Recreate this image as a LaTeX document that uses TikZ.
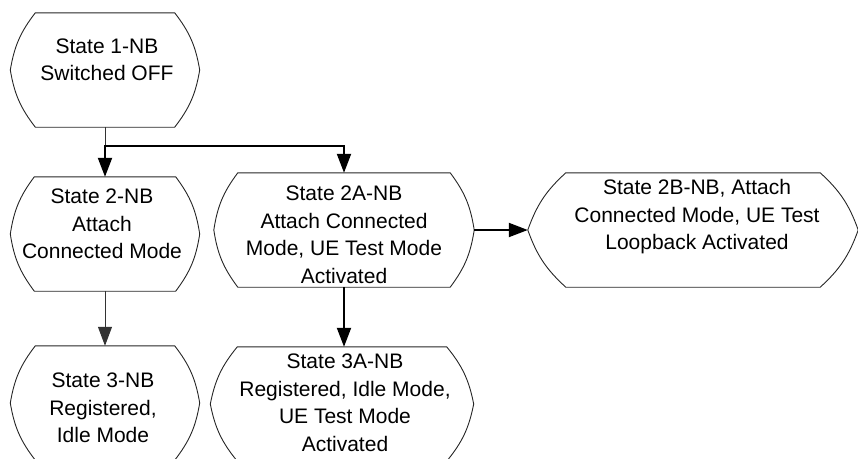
\documentclass[tikz,border=0pt]{standalone}
\usepackage{fontspec}
\setmainfont{Liberation Sans}
\usetikzlibrary{arrows.meta,calc}

\tikzset{
  statebox/.style={minimum height=114pt, inner sep=0pt},
  statetext/.style={align=center, inner sep=0pt, font=\fontsize{21}{27.5}\selectfont},
  outline/.style={draw=black!85, line width=0.9pt},
  thinline/.style={draw=black!80, line width=1pt},
  thickline/.style={draw=black, line width=2pt},
  tip/.style={-{Triangle[length=19pt,width=14pt]}}
}

%% hexagon with bulging sides round a named node, #2 = corner inset
\newcommand{\drawstate}[2]{%
  \draw[outline] ($(#1.north west)+(#2,0)$) -- ($(#1.north east)+(-#2,0)$)
    to[bend left=14] (#1.east) to[bend left=14] ($(#1.south east)+(-#2,0)$)
    -- ($(#1.south west)+(#2,0)$) to[bend left=14] (#1.west)
    to[bend left=14] ($(#1.north west)+(#2,0)$) -- cycle;}

\begin{document}
\begin{tikzpicture}[x=1pt,y=-1pt]
\useasboundingbox (0,0) rectangle (858,458);

%% states
\node[statebox, minimum width=189pt] (s1)  at (105,70)    {};   %% 1-NB
\node[statebox, minimum width=189pt] (s2)  at (105,234)   {};   %% 2-NB
\node[statebox, minimum width=260pt] (s2a) at (344,230)   {};   %% 2A-NB
\node[statebox, minimum width=330pt] (s2b) at (693,230)   {};   %% 2B-NB
\node[statebox, minimum width=189pt] (s3)  at (105,403)   {};   %% 3-NB
\node[statebox, minimum width=263pt] (s3a) at (342,404)   {};   %% 3A-NB

\drawstate{s1}{25}
\drawstate{s2}{24}
\drawstate{s2a}{24}
\drawstate{s2b}{38}
\drawstate{s3}{25}
\drawstate{s3a}{27}

%% state texts
\node[statetext] (t1)  at (107,60)  {State 1-NB\\Switched OFF};
\node[statetext] (t2)  at (102,224) {State 2-NB\\Attach\\Connected Mode};
\node[statetext] (t2a) at (344,235) {State 2A-NB\\Attach Connected\\Mode, UE Test Mode\\Activated};
\node[statetext] (t2b) at (697,217) {State 2B-NB, Attach\\Connected Mode, UE Test\\Loopback Activated};
\node[statetext] (t3)  at (103,408) {State 3-NB\\Registered,\\Idle Mode};
\node[statetext] (t3a) at (345,403) {State 3A-NB\\Registered, Idle Mode,\\UE Test Mode\\Activated};

%% transitions
\coordinate (split) at (105,146);
\draw[thinline] (s1.south) -- ($(split)+(0,2)$);
\draw[thickline] ($(split)+(-1,0)$) -- (split);
\draw[thickline, tip] (split) -- (s2.north);
\draw[thickline, tip] (split) -| (s2a.north);
\draw[thinline, tip] (s2.south) -- (s3.north);
\draw[thickline, tip] (s2a.south) -- (s3a.north -| s2a.south);
\draw[thickline, tip] (s2a.east) -- (s2b.west);
\end{tikzpicture}
\end{document}
